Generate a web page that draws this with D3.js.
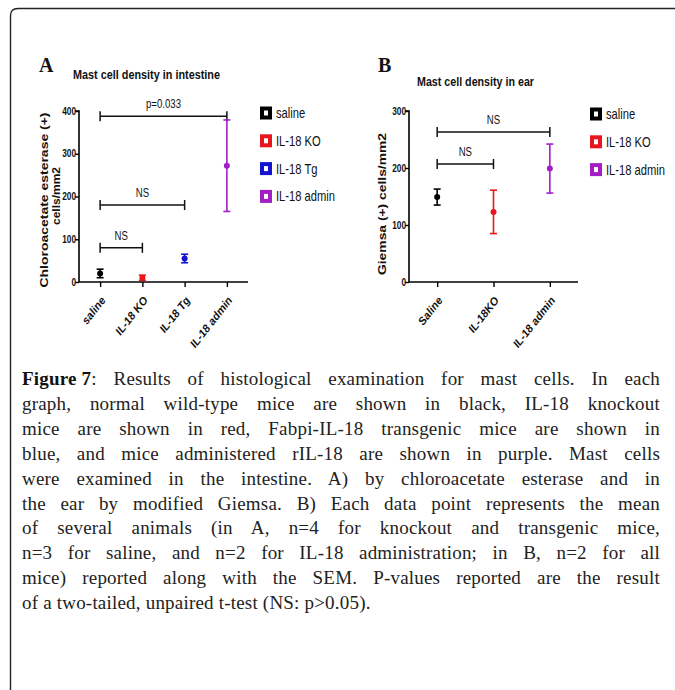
<!DOCTYPE html>
<html><head><meta charset="utf-8">
<script src="https://cdn.jsdelivr.net/npm/d3@7/dist/d3.min.js"></script>
<style>
html,body{margin:0;padding:0;background:#fff;}
#wrap{position:relative;width:675px;height:690px;overflow:hidden;}
svg{position:absolute;left:0;top:0;}
#cap{position:absolute;left:22px;top:367px;width:638px;font-family:"Liberation Serif","Times New Roman",serif;font-size:19px;letter-spacing:0.2px;color:#222;line-height:24.9px;}
#cap div{text-align:justify;text-align-last:justify;white-space:nowrap;}
#cap div.last{text-align-last:left;}
#cap b{font-weight:bold;color:#111;display:inline-block;}
</style></head>
<body><div id="wrap"><svg id="chart" width="675" height="690"></svg><div id="cap"></div></div>
<script>
// ---------- data ----------
const catsA = ["saline", "IL-18 KO", "IL-18 Tg", "IL-18 admin"];
const meanA = [20, 10, 55, 272];
const semA  = [10, 6, 10, 107];
const colorsA = ["#000000", "#e8161c", "#1414d0", "#a21fc6"];
const yTicksA = [0, 100, 200, 300, 400];
const bracketFromA = [0, 0, 0];
const bracketToA   = [3, 2, 1];
const bracketYA    = [388, 180, 80];
const bracketLabA  = ["p=0.033", "NS", "NS"];
const legendA = ["saline", "IL-18 KO", "IL-18 Tg", "IL-18 admin"];

const catsB = ["Saline", "IL-18KO", "IL-18 admin"];
const meanB = [149, 123, 199];
const semB  = [14, 38, 43];
const colorsB = ["#000000", "#e8161c", "#a21fc6"];
const yTicksB = [0, 100, 200, 300];
const bracketFromB = [0, 0];
const bracketToB   = [2, 1];
const bracketYB    = [263, 207];
const bracketLabB  = ["NS", "NS"];
const legendB = ["saline", "IL-18 KO", "IL-18 admin"];

const captionLines = [
 "<b>Figure 7</b>: Results of histological examination for mast cells. In each",
 "graph, normal wild-type mice are shown in black, IL-18 knockout",
 "mice are shown in red, Fabpi-IL-18 transgenic mice are shown in",
 "blue, and mice administered rIL-18 are shown in purple. Mast cells",
 "were examined in the intestine. A) by chloroacetate esterase and in",
 "the ear by modified Giemsa. B) Each data point represents the mean",
 "of several animals (in A, n=4 for knockout and transgenic mice,",
 "n=3 for saline, and n=2 for IL-18 administration; in B, n=2 for all",
 "mice) reported along with the SEM. P-values reported are the result",
 "of a two-tailed, unpaired t-test (NS: p>0.05)."
];

// ---------- frame ----------
const svg = d3.select("#chart");
svg.append("path")
  .attr("d", "M10.5,700 L10.5,16 Q10.5,8.5 18,8.5 L700,8.5")
  .attr("fill", "none").attr("stroke", "#222").attr("stroke-width", 1.4);

const SANS = "'Liberation Sans',Arial,sans-serif";
const NX = 0.8; // horizontal condensing for narrow-font look

function panel(o) {
  const g = svg.append("g");
  const x = d3.scalePoint().domain(o.cats).range([o.x0, o.x1]).padding(0.5);
  const y = d3.scaleLinear().domain([0, o.ymax]).range([o.y0, o.y1]);

  // letter
  g.append("text").attr("x", o.letterX).attr("y", 72)
    .attr("font-family", "'Liberation Serif','Times New Roman',serif").attr("font-weight", "bold")
    .attr("font-size", 20).attr("fill", "#111").text(o.letter);
  // title
  g.append("text").attr("x", o.titleX).attr("y", o.titleY)
    .attr("font-family", SANS).attr("font-weight", "bold").attr("font-size", 13.5)
    .attr("textLength", o.titleLen).attr("lengthAdjust", "spacingAndGlyphs")
    .attr("fill", "#111").text(o.title);

  // y axis
  const ya = g.append("g").attr("transform", `translate(${o.x0},0)`)
    .call(d3.axisLeft(y).tickValues(o.yTicks).tickSize(4).tickFormat(d3.format("d")));
  ya.select(".domain").attr("stroke-width", 1.6).attr("d", `M-4,${o.y1}H0V${o.y0}`);
  ya.selectAll(".tick line").attr("stroke-width", 1.4);
  ya.selectAll(".tick text").attr("font-family", SANS).attr("font-weight", "bold")
    .attr("font-size", 10).attr("x", -3).attr("fill", "#111")
    .attr("textLength", d => String(d).length * 4.6).attr("lengthAdjust", "spacingAndGlyphs");
  // x axis
  const xa = g.append("g").attr("transform", `translate(0,${o.y0})`)
    .call(d3.axisBottom(x).tickSize(5).tickFormat(""));
  xa.select(".domain").attr("stroke-width", 1.6).attr("d", `M${o.x0},0H${o.x1}`);
  xa.selectAll(".tick line").attr("stroke-width", 1.4);
  o.cats.forEach(c => {
    g.append("text").attr("transform", `translate(${x(c) + 3},${o.y0 + 16}) rotate(-52)`)
      .attr("text-anchor", "end").attr("dy", "0.35em")
      .attr("font-family", SANS).attr("font-weight", "bold").attr("font-style", "italic")
      .attr("font-size", 11).attr("fill", "#111").text(c);
  });

  // y labels
  o.ylabels.forEach(l => {
    g.append("text").attr("transform", `translate(${l.x},${l.y}) rotate(-90)`)
      .attr("text-anchor", "middle").attr("font-family", SANS).attr("font-weight", "bold")
      .attr("font-size", 11).attr("textLength", l.len).attr("lengthAdjust", "spacingAndGlyphs")
      .attr("fill", "#111").text(l.t);
  });

  // brackets
  o.bFrom.forEach((f, i) => {
    const xa0 = x(o.cats[f]), xa1 = x(o.cats[o.bTo[i]]), yy = y(o.bY[i]);
    const bg = g.append("g").attr("stroke", "#111").attr("stroke-width", 1.5);
    bg.append("line").attr("x1", xa0).attr("x2", xa1).attr("y1", yy).attr("y2", yy);
    bg.append("line").attr("x1", xa0).attr("x2", xa0).attr("y1", yy - 5).attr("y2", yy + 5);
    bg.append("line").attr("x1", xa1).attr("x2", xa1).attr("y1", yy - 5).attr("y2", yy + 5);
    g.append("text").attr("transform", `translate(${(xa0 + xa1) / 2},${yy - 8}) scale(${NX},1)`)
      .attr("text-anchor", "middle")
      .attr("font-family", SANS).attr("font-size", 12).attr("fill", "#111").text(o.bLab[i]);
  });

  // error bars + means
  o.cats.forEach((c, i) => {
    const cx = x(c), col = o.colors[i];
    const top = y(o.mean[i] + o.sem[i]), bot = y(o.mean[i] - o.sem[i]);
    const eg = g.append("g").attr("stroke", col).attr("stroke-width", 1.6);
    eg.append("line").attr("x1", cx).attr("x2", cx).attr("y1", top).attr("y2", bot);
    eg.append("line").attr("x1", cx - 3.5).attr("x2", cx + 3.5).attr("y1", top).attr("y2", top);
    eg.append("line").attr("x1", cx - 3.5).attr("x2", cx + 3.5).attr("y1", bot).attr("y2", bot);
    g.append("circle").attr("cx", cx).attr("cy", y(o.mean[i])).attr("r", 3).attr("fill", col);
  });

  // legend
  o.legend.forEach((l, i) => {
    const ly = o.legY + i * 27.8, col = o.colors[i];
    g.append("rect").attr("x", o.legX).attr("y", ly - 6.5).attr("width", 12).attr("height", 13).attr("fill", col);
    g.append("rect").attr("x", o.legX + 4).attr("y", ly - 2.5).attr("width", 4).attr("height", 5).attr("fill", "#fff");
    g.append("text").attr("transform", `translate(${o.legX + 16},${ly}) scale(${NX},1)`).attr("dy", "0.36em")
      .attr("font-family", SANS).attr("font-size", 14).attr("fill", "#111").text(l);
  });
}

panel({
  cats: catsA, mean: meanA, sem: semA, colors: colorsA, yTicks: yTicksA, ymax: 400,
  x0: 79, x1: 248, y0: 282, y1: 111,
  letter: "A", letterX: 39, title: "Mast cell density in intestine", titleX: 73, titleY: 79, titleLen: 147,
  ylabels: [{t: "Chloroacetate esterase (+)", x: 47.5, y: 200, len: 175}, {t: "cells/mm2", x: 59.5, y: 196, len: 58}],
  bFrom: bracketFromA, bTo: bracketToA, bY: bracketYA, bLab: bracketLabA,
  legend: legendA, legX: 260, legY: 113
});
panel({
  cats: catsB, mean: meanB, sem: semB, colors: colorsB, yTicks: yTicksB, ymax: 300,
  x0: 409, x1: 578, y0: 282, y1: 111,
  letter: "B", letterX: 378, title: "Mast cell density in ear", titleX: 417, titleY: 86, titleLen: 117,
  ylabels: [{t: "Giemsa (+) cells/mm2", x: 385.5, y: 204, len: 142}],
  bFrom: bracketFromB, bTo: bracketToB, bY: bracketYB, bLab: bracketLabB,
  legend: legendB, legX: 590, legY: 114
});

// caption
d3.select("#cap").selectAll("div").data(captionLines).join("div")
  .attr("class", (d, i) => i === captionLines.length - 1 ? "last" : null)
  .html(d => d);
</script></body></html>
